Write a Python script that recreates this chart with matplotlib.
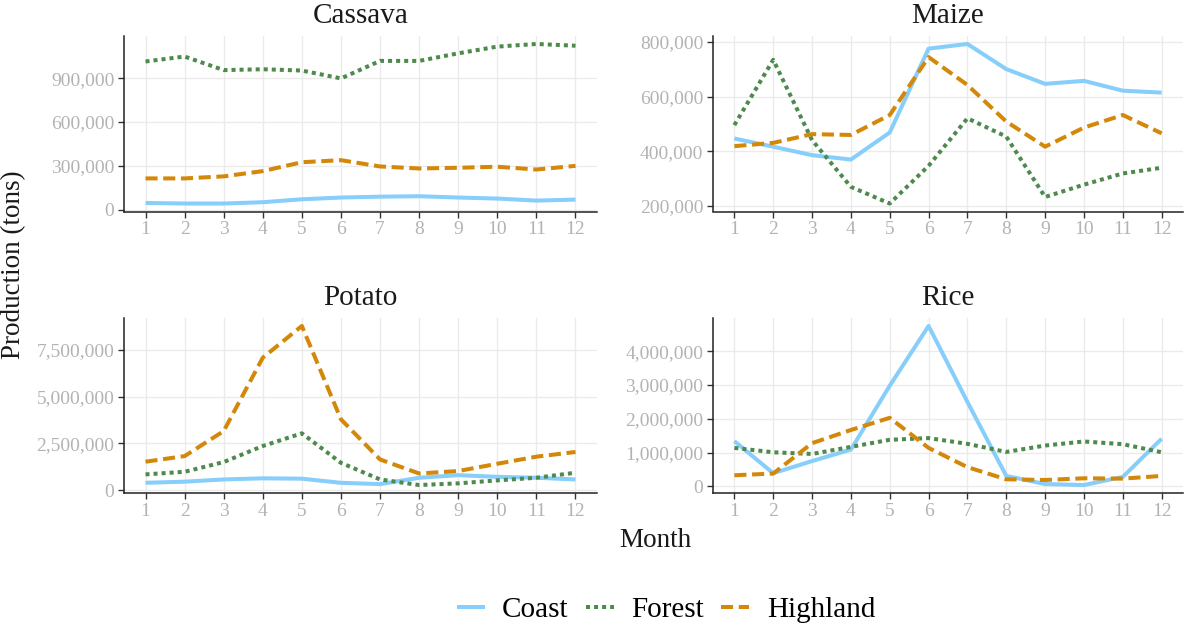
import matplotlib
matplotlib.use("Agg")
import matplotlib.pyplot as plt
from matplotlib.ticker import FuncFormatter, MultipleLocator

plt.rcParams['font.family'] = ['Liberation Serif', 'DejaVu Serif']

months = list(range(1, 13))
regions = ["Coast", "Forest", "Highland"]

cassava_coast = [45000, 41000, 41000, 50000, 70000, 82000, 88000, 91000, 82000, 75000, 61000, 68000]
cassava_forest = [1014000, 1048000, 955000, 961000, 952000, 898000, 1018000, 1018000, 1070000, 1116000, 1134000, 1122000]
cassava_highland = [213000, 213000, 227000, 263000, 324000, 338000, 295000, 281000, 286000, 293000, 274000, 299000]

maize_coast = [447000, 417000, 386000, 370000, 469000, 776000, 793000, 701000, 647000, 658000, 622000, 615000]
maize_forest = [496000, 735000, 441000, 270000, 209000, 347000, 521000, 454000, 233000, 278000, 319000, 340000]
maize_highland = [419000, 431000, 463000, 460000, 533000, 745000, 643000, 509000, 417000, 487000, 533000, 466000]

potato_coast = [390000, 450000, 570000, 630000, 610000, 390000, 320000, 660000, 800000, 710000, 660000, 570000]
potato_forest = [840000, 980000, 1500000, 2360000, 3040000, 1460000, 570000, 270000, 360000, 520000, 660000, 930000]
potato_highland = [1520000, 1820000, 3160000, 7090000, 8790000, 3790000, 1640000, 890000, 1020000, 1410000, 1790000, 2040000]

rice_coast = [1340000, 390000, 750000, 1090000, 2980000, 4750000, 2500000, 310000, 70000, 40000, 280000, 1410000]
rice_forest = [1140000, 1010000, 960000, 1170000, 1380000, 1430000, 1260000, 1020000, 1210000, 1330000, 1250000, 1010000]
rice_highland = [330000, 380000, 1280000, 1670000, 2030000, 1140000, 570000, 210000, 190000, 240000, 230000, 310000]

panels = [
    ("Cassava", [cassava_coast, cassava_forest, cassava_highland], 300000),
    ("Maize", [maize_coast, maize_forest, maize_highland], 200000),
    ("Potato", [potato_coast, potato_forest, potato_highland], 2500000),
    ("Rice", [rice_coast, rice_forest, rice_highland], 1000000),
]

colors = {"Coast": "#87CEFA", "Forest": "#4E8A4E", "Highland": "#D4880A"}
styles = {"Coast": "-", "Forest": (0, (1, 1.0)), "Highland": (0, (3, 1.4))}

W, H = 1185, 624
fig = plt.figure(figsize=(W / 100, H / 100), dpi=100)

boxes = [(124, 36, 597, 211.5), (713, 36, 1183, 211.5),
         (124, 318, 597, 493), (713, 318, 1183, 493)]

fmt = FuncFormatter(lambda v, p: f"{int(round(v)):,}")
handles = []
for (title, series, step), (l, t, r, b) in zip(panels, boxes):
    ax = fig.add_axes([l / W, 1 - b / H, (r - l) / W, (b - t) / H])
    for reg, vals in zip(regions, series):
        ln, = ax.plot(months, vals, color=colors[reg], linestyle=styles[reg],
                      lw=2.9, dash_capstyle='butt', solid_capstyle='butt', label=reg)
        if title == "Cassava":
            handles.append(ln)
    allv = [v for s in series for v in s]
    lo, hi = min(allv), max(allv)
    pad = 0.05 * (hi - lo)
    ax.set_ylim(lo - pad, hi + pad)
    ax.set_xlim(0.45, 12.55)
    ax.set_xticks(months)
    ax.yaxis.set_major_locator(MultipleLocator(step))
    ax.yaxis.set_major_formatter(fmt)
    ax.grid(True, color="#EBEBEB", lw=1.0)
    ax.set_axisbelow(True)
    for s in ["top", "right"]:
        ax.spines[s].set_visible(False)
    for s in ["left", "bottom"]:
        ax.spines[s].set_color("#222222")
        ax.spines[s].set_linewidth(1.1)
    ax.tick_params(axis='both', colors="#333333", labelcolor="#B3B3B3",
                   labelsize=14, length=4, width=1, pad=3)
    ax.set_title(title, fontsize=21, color="#1A1A1A", pad=9.5)

fig.text(14 / W, 1 - 265 / H, "Production (tons)", rotation=90, ha='center', va='center',
         fontsize=19.5, color="#1A1A1A")
fig.text(655 / W, 1 - 547 / H, "Month", ha='center', va='baseline', fontsize=19.5, color="#1A1A1A")

fig.legend(handles=handles, labels=regions, loc='center', bbox_to_anchor=(666 / W, 1 - 610 / H),
           ncol=3, frameon=False, fontsize=21, handlelength=0.95, columnspacing=0.6,
           handletextpad=0.6, borderpad=0, borderaxespad=0)

fig.savefig("out.png", dpi=100)
